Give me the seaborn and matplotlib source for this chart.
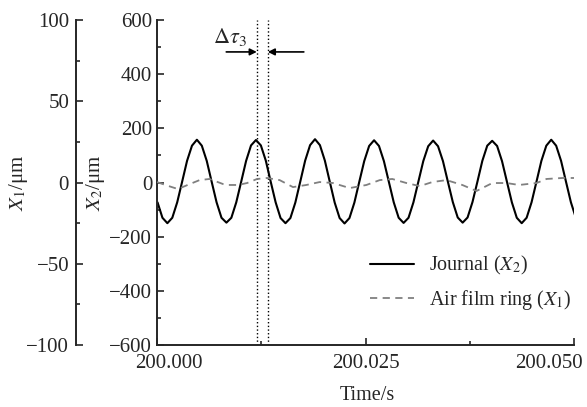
"""
Journal and air film ring displacement against time,
with the phase lag between them marked as delta tau 3.
"""
import numpy as np
import pandas as pd
import matplotlib
matplotlib.use('Agg')
import matplotlib.pyplot as plt
import matplotlib.transforms as mtransforms
import seaborn as sns
from matplotlib.ticker import MultipleLocator
from matplotlib.lines import Line2D

# journal displacement X2 (um), sampled every 0.00059 s from 200.00006 s
t2_start = 200.00006
t2_step = 0.00059
journal = [-73, -130, -150, -130,
           -73, 3, 80, 136,
           158, 136, 80, 3, -73, -130, -148, -130, -73, 3, 80, 137,
           157, 137, 81, 3, -73, -131, -150, -131, -74, 3, 81, 138,
           160, 138, 81, 3, -74, -131, -151, -131, -74, 3, 79, 135,
           156, 135, 79, 3, -73, -130, -149, -130, -73, 3, 79, 134,
           155, 134, 79, 3, -72, -129, -148, -129, -72, 3, 80, 136,
           154, 135, 79, 3, -73, -130, -150, -130, -73, 3, 80, 136,
           158, 136, 80, 3, -73, -130]

# air film ring displacement X1 (um)
t1 = [0.0000, 0.0010, 0.0025, 0.0039, 0.0051, 0.0063, 0.0079, 0.0085,
      0.0097, 0.0108, 0.0120, 0.0132, 0.0147, 0.0163, 0.0179, 0.0195,
      0.0211, 0.0231, 0.0251, 0.0267, 0.0282, 0.0299, 0.0315, 0.0330,
      0.0347, 0.0366, 0.0383, 0.0402, 0.0419, 0.0434, 0.0455, 0.0467,
      0.0486, 0.0502]
ring = [0.3, -1.5, -4.0, -1.0, 1.5, 2.2, -0.9, -1.5,
        -1.5, -0.3, 2.2, 2.8, 1.5, -2.8, -1.5, 0.3,
        -0.3, -3.4, -1.5, 1.5, 2.2, -0.3, -2.2, 0.3,
        1.5, -1.5, -5.2, -0.3, -0.3, -1.5, -0.3, 2.2,
        2.8, 2.8]

# time axis ticks
time_ticks = [200.000, 200.025, 200.050]
time_labels = ['200.000', '200.025', '200.050']

# marked lag between the two dotted lines
lag_start = 200.01196
lag_end = 200.01328

sns.set_style('ticks')
plt.rcParams['font.family'] = ['Liberation Serif', 'DejaVu Serif']
plt.rcParams['mathtext.fontset'] = 'stix'
plt.rcParams['axes.unicode_minus'] = True

df2 = pd.DataFrame({'time': t2_start + t2_step * np.arange(len(journal)),
                    'x2': journal})
df1 = pd.DataFrame({'time': 200 + np.array(t1), 'x1': ring})

fig = plt.figure(figsize=(5.87, 4.07), dpi=100)
ax = fig.add_axes([0.2675, 0.152, 0.7105, 0.799])
ax1 = ax.twinx()

sns.lineplot(data=df2, x='time', y='x2', ax=ax, color='black',
             linewidth=1.5, sort=False)
sns.lineplot(data=df1, x='time', y='x1', ax=ax1, color='#808080',
             linewidth=1.3, sort=False)
ax1.lines[0].set_dashes([4, 3])

# main axis (X2)
ax.set_xlim(200.000, 200.050)
ax.set_ylim(-600, 600)
ax.set_xticks(time_ticks)
ax.xaxis.set_minor_locator(MultipleLocator(0.0125))
ax.yaxis.set_major_locator(MultipleLocator(200))
ax.yaxis.set_minor_locator(MultipleLocator(100))
for side in ['top', 'right']:
    ax.spines[side].set_visible(False)
for side in ['left', 'bottom']:
    ax.spines[side].set_linewidth(1.4)
ax.tick_params(which='both', direction='in', width=1.2, labelsize=15)
ax.tick_params(axis='y', pad=3.5)
ax.tick_params(axis='x', labelbottom=False)
ax.tick_params(which='major', length=5)
ax.tick_params(which='minor', length=3)
ax.set_xlabel('Time/s', fontsize=14.5, va='top')
ax.xaxis.set_label_coords(0.504, -0.127)
ax.set_ylabel('$X_2$/μm', fontsize=15)
ax.yaxis.set_label_coords(-0.120, 0.5)

# time tick labels, the end ones kept inside the axis span
aligns = ['left', 'center', 'right']
shifts = [-0.22, 0.0, 0.09]
for tick, label, ha, dx in zip(time_ticks, time_labels, aligns, shifts):
    trans = ax.get_xaxis_transform() + mtransforms.ScaledTranslation(
        dx, 0, fig.dpi_scale_trans)
    ax.text(tick, -0.056, label, transform=trans, ha=ha, va='center',
            fontsize=15)

# outer axis (X1)
ax1.set_ylim(-100, 100)
ax1.spines['left'].set_position(('outward', 58.3))
ax1.spines['left'].set_linewidth(1.4)
for side in ['top', 'right', 'bottom']:
    ax1.spines[side].set_visible(False)
ax1.yaxis.set_ticks_position('left')
ax1.yaxis.set_label_position('left')
ax1.yaxis.set_major_locator(MultipleLocator(50))
ax1.yaxis.set_minor_locator(MultipleLocator(25))
ax1.tick_params(which='both', direction='in', width=1.2, labelsize=15,
                pad=5)
ax1.tick_params(which='major', length=5)
ax1.tick_params(which='minor', length=3)
ax1.set_ylabel('$X_1$/μm', fontsize=15)
ax1.yaxis.set_label_coords(-0.305, 0.5)

# delta tau marker
for xv in [lag_start, lag_end]:
    ax.axvline(xv, color='black', linestyle=':', linewidth=1.0)
arrow = dict(arrowstyle='-|>', color='black', lw=1.2, mutation_scale=10,
             shrinkA=0, shrinkB=0)
ax.annotate('', xy=(lag_start, 482), xytext=(200.0083, 482),
            arrowprops=arrow)
ax.annotate('', xy=(lag_end, 482), xytext=(200.0176, 482),
            arrowprops=arrow)
ax.text(200.0067, 536, r'$\Delta\tau_3$', fontsize=16, ha='left',
        va='center')

handles = [Line2D([], [], color='black', linewidth=1.5),
           Line2D([], [], color='#808080', linewidth=1.3,
                  dashes=[4, 3])]
ax.legend(handles, ['Journal ($X_2$)', 'Air film ring ($X_1$)'],
          loc='upper left', bbox_to_anchor=(0.51, 0.28), frameon=False,
          fontsize=14.5, handlelength=2.2, handletextpad=0.75,
          labelspacing=0.55, borderpad=0, borderaxespad=0)

fig.savefig('out.png', dpi=100)
